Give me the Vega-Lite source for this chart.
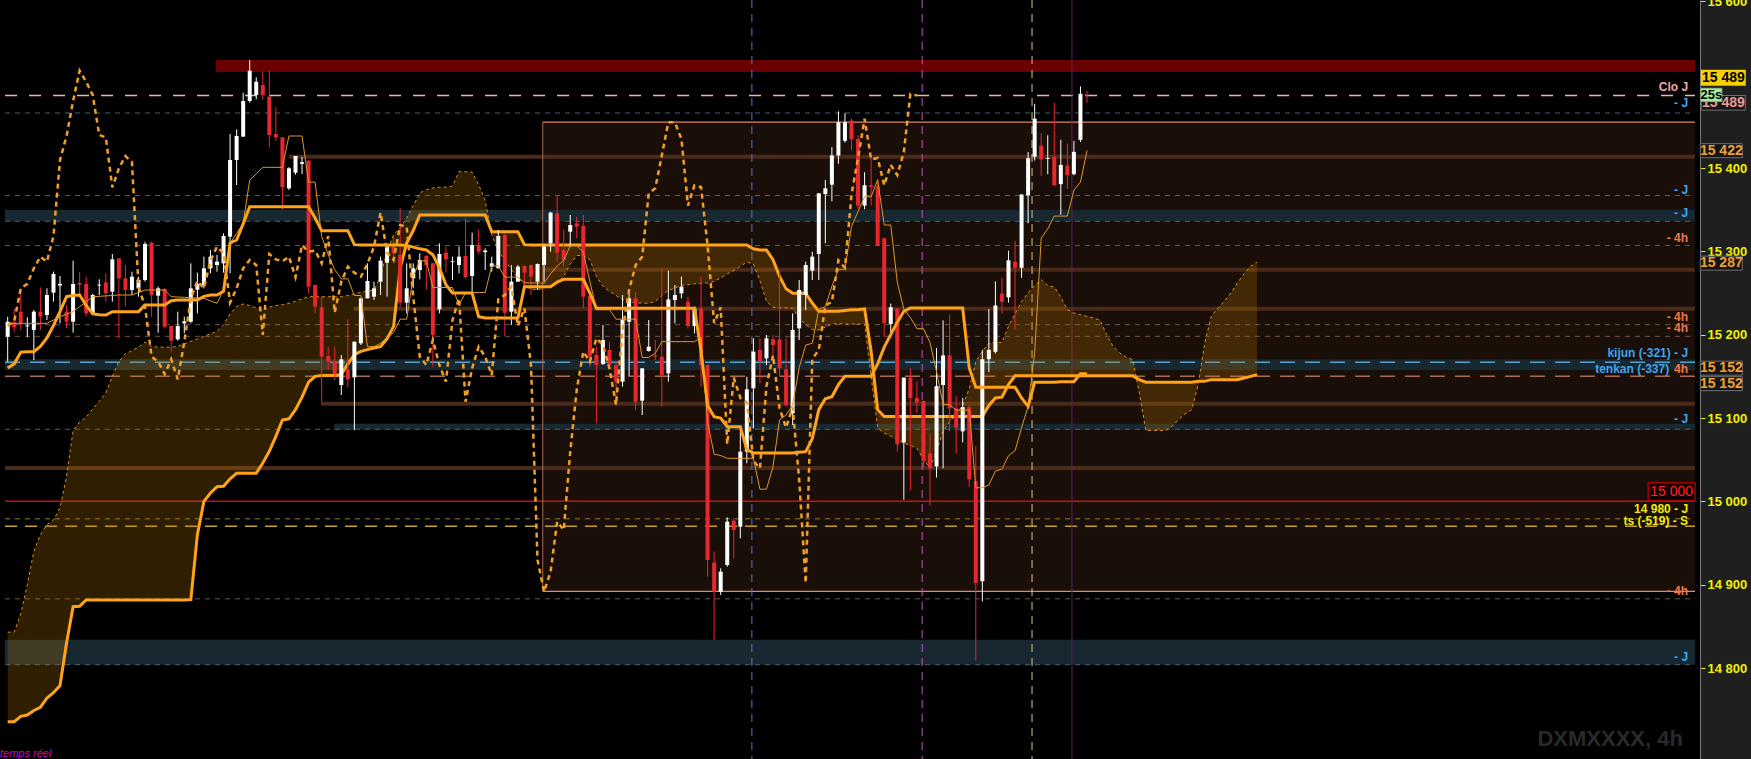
{
"$schema": "https://vega.github.io/schema/vega-lite/v6.json",
"width": 1700, "height": 759,
"autosize": {"type": "none"},
"padding": {"left": 0, "top": 0, "right": 51, "bottom": 0},
"background": "#1f1f1f",
"config": {"view": {"fill": "#000000", "stroke": null}, "text": {"font": "Liberation Sans"}},
"resolve": {"scale": {"color": "independent", "strokeDash": "independent", "strokeWidth": "independent"}},
"datasets": {
"bars": [
{"i":0,"o":15197.6,"h":15221.6,"l":15167.6,"c":15215.6,"tk":15213.6,"kj":15160,"sa":14843,"sb":14735.6,"ck":15210.4},
{"i":1,"o":15215,"h":15231,"l":15203,"c":15209,"tk":15213.6,"kj":15165,"sa":14843,"sb":14735.6,"ck":15216},
{"i":2,"o":15227.6,"h":15255.6,"l":15205.6,"c":15213.6,"tk":15213.6,"kj":15179,"sa":14865,"sb":14742,"ck":15255.6},
{"i":3,"o":15210,"h":15221,"l":15197,"c":15211,"tk":15213.6,"kj":15179.6,"sa":14900,"sb":14743.6,"ck":15261},
{"i":4,"o":15205.6,"h":15229.6,"l":15169.6,"c":15227.6,"tk":15213.6,"kj":15179.6,"sa":14940,"sb":14749,"ck":15279.6},
{"i":5,"o":15227.6,"h":15256.8,"l":15205.6,"c":15221.6,"tk":15213.6,"kj":15186,"sa":14960,"sb":14752.8,"ck":15293.6},
{"i":6,"o":15223.6,"h":15255.6,"l":15217.6,"c":15247.6,"tk":15213.6,"kj":15196,"sa":14972,"sb":14764,"ck":15287.6},
{"i":7,"o":15250.4,"h":15275.6,"l":15239.6,"c":15272.8,"tk":15217.6,"kj":15211,"sa":14977.6,"sb":14770.4,"ck":15318.4},
{"i":8,"o":15259,"h":15270.4,"l":15213.6,"c":15261,"tk":15221.6,"kj":15228,"sa":14992,"sb":14779,"ck":15409.6},
{"i":9,"o":15227.6,"h":15235.6,"l":15207.6,"c":15215.6,"tk":15224.6,"kj":15245.6,"sa":15030,"sb":14830,"ck":15438.4},
{"i":10,"o":15215.6,"h":15288.8,"l":15202.4,"c":15260.8,"tk":15227.6,"kj":15247,"sa":15085,"sb":14873.6,"ck":15480.4},
{"i":11,"o":15262,"h":15275.6,"l":15247.6,"c":15260,"tk":15233.6,"kj":15247.6,"sa":15095,"sb":14874,"ck":15516.8},
{"i":12,"o":15260.8,"h":15269.6,"l":15221.6,"c":15225.6,"tk":15239.6,"kj":15235,"sa":15101,"sb":14881.6,"ck":15503.6},
{"i":13,"o":15225.6,"h":15249,"l":15224,"c":15247.6,"tk":15245.6,"kj":15225,"sa":15111,"sb":14881.6,"ck":15487.6},
{"i":14,"o":15259,"h":15266.4,"l":15247.6,"c":15260,"tk":15246,"kj":15224,"sa":15120,"sb":14881.6,"ck":15439.6},
{"i":15,"o":15262.8,"h":15273.6,"l":15239.6,"c":15249.6,"tk":15246.5,"kj":15223.6,"sa":15130,"sb":14881.6,"ck":15436.8},
{"i":16,"o":15251.6,"h":15296.8,"l":15239.6,"c":15290.4,"tk":15247,"kj":15227.6,"sa":15150,"sb":14881.6,"ck":15376.8},
{"i":17,"o":15291.6,"h":15292,"l":15195.6,"c":15267.6,"tk":15247.6,"kj":15227.6,"sa":15168,"sb":14881.6,"ck":15399.6},
{"i":18,"o":15267.6,"h":15283.6,"l":15233.6,"c":15253.6,"tk":15247.6,"kj":15227.6,"sa":15177,"sb":14881.6,"ck":15414.4},
{"i":19,"o":15253.6,"h":15275.6,"l":15247.6,"c":15269.6,"tk":15247.6,"kj":15227.6,"sa":15181,"sb":14881.6,"ck":15407},
{"i":20,"o":15255.6,"h":15269.6,"l":15245.6,"c":15265.6,"tk":15250.6,"kj":15227.6,"sa":15185,"sb":14881.6,"ck":15257.6},
{"i":21,"o":15265.6,"h":15311.6,"l":15263.6,"c":15308.8,"tk":15253.6,"kj":15235.6,"sa":15191,"sb":14881.6,"ck":15233.6},
{"i":22,"o":15310.4,"h":15311.6,"l":15221.6,"c":15247.6,"tk":15253.6,"kj":15235.6,"sa":15186,"sb":14881.6,"ck":15173.6},
{"i":23,"o":15246.8,"h":15257.6,"l":15202.4,"c":15255.6,"tk":15253.6,"kj":15235.6,"sa":15185,"sb":14881.6,"ck":15167.6},
{"i":24,"o":15254.8,"h":15256,"l":15207.6,"c":15209.6,"tk":15253.6,"kj":15235.6,"sa":15185,"sb":14881.6,"ck":15152.8},
{"i":25,"o":15210.4,"h":15211,"l":15179.6,"c":15192.8,"tk":15245.6,"kj":15240.8,"sa":15185,"sb":14881.6,"ck":15170.4},
{"i":26,"o":15194.4,"h":15227.6,"l":15192.8,"c":15210.4,"tk":15245.2,"kj":15241.5,"sa":15186,"sb":14881.6,"ck":15146.4},
{"i":27,"o":15213.6,"h":15221.6,"l":15201.6,"c":15216,"tk":15244.8,"kj":15241.5,"sa":15189,"sb":14881.6,"ck":15191.6},
{"i":28,"o":15215.6,"h":15285.6,"l":15213.6,"c":15255.6,"tk":15244.4,"kj":15241.5,"sa":15192,"sb":14882,"ck":15243.6},
{"i":29,"o":15254,"h":15274.4,"l":15225.6,"c":15261,"tk":15244,"kj":15241.5,"sa":15195,"sb":14960,"ck":15264.4},
{"i":30,"o":15259.6,"h":15293.6,"l":15255.6,"c":15279.6,"tk":15243.6,"kj":15246,"sa":15198,"sb":15000,"ck":15255.6},
{"i":31,"o":15279.6,"h":15301.6,"l":15273.6,"c":15293.6,"tk":15240.6,"kj":15247.6,"sa":15201,"sb":15010,"ck":15288.8},
{"i":32,"o":15283.6,"h":15295.6,"l":15275.6,"c":15287.6,"tk":15237.6,"kj":15247.6,"sa":15204,"sb":15017.6,"ck":15305.6},
{"i":33,"o":15285.6,"h":15321.6,"l":15274.4,"c":15318.4,"tk":15253.6,"kj":15252,"sa":15212,"sb":15018,"ck":15297.6},
{"i":34,"o":15317.6,"h":15440.8,"l":15273.6,"c":15409.6,"tk":15309.6,"kj":15310,"sa":15225,"sb":15027,"ck":15238.4},
{"i":35,"o":15409.6,"h":15446.4,"l":15379.6,"c":15438.4,"tk":15321.6,"kj":15313.6,"sa":15234,"sb":15033.6,"ck":15255.6},
{"i":36,"o":15437.6,"h":15490.4,"l":15437.6,"c":15480.4,"tk":15333.6,"kj":15333,"sa":15236.8,"sb":15033.6,"ck":15279.6},
{"i":37,"o":15480.4,"h":15529.6,"l":15478.4,"c":15516.8,"tk":15385.6,"kj":15353.6,"sa":15235,"sb":15033.6,"ck":15289.6},
{"i":38,"o":15487.6,"h":15508.8,"l":15482.4,"c":15503.6,"tk":15393,"kj":15353.6,"sa":15232,"sb":15033.6,"ck":15283.6},
{"i":39,"o":15499.6,"h":15515.6,"l":15481.6,"c":15487.6,"tk":15400.8,"kj":15353.6,"sa":15229.6,"sb":15046,"ck":15199.6},
{"i":40,"o":15485.6,"h":15516.8,"l":15424.8,"c":15439.6,"tk":15400.8,"kj":15353.6,"sa":15233,"sb":15060,"ck":15296.8},
{"i":41,"o":15440.8,"h":15472.8,"l":15432.8,"c":15436.8,"tk":15400.8,"kj":15353.6,"sa":15235,"sb":15078,"ck":15290.4},
{"i":42,"o":15436.8,"h":15437,"l":15349.6,"c":15376.8,"tk":15400.8,"kj":15353.6,"sa":15236,"sb":15097.6,"ck":15288},
{"i":43,"o":15375.6,"h":15401,"l":15373.6,"c":15399.6,"tk":15438.4,"kj":15353.6,"sa":15237.6,"sb":15099,"ck":15293.6},
{"i":44,"o":15394.4,"h":15414.4,"l":15392,"c":15414.4,"tk":15438.4,"kj":15353.6,"sa":15240,"sb":15110,"ck":15268.8},
{"i":45,"o":15405,"h":15413.6,"l":15392.8,"c":15407,"tk":15438.4,"kj":15353.6,"sa":15243,"sb":15125,"ck":15307.6},
{"i":46,"o":15408.8,"h":15409.6,"l":15249.6,"c":15257.6,"tk":15383,"kj":15353.6,"sa":15245.6,"sb":15143,"ck":15299.6},
{"i":47,"o":15259.6,"h":15260,"l":15225.6,"c":15233.6,"tk":15383,"kj":15340,"sa":15245.6,"sb":15150,"ck":15301},
{"i":48,"o":15232.8,"h":15245.6,"l":15119.6,"c":15173.6,"tk":15318,"kj":15324.8,"sa":15245.6,"sb":15151,"ck":15285.6},
{"i":49,"o":15174.4,"h":15185.6,"l":15157.6,"c":15167.6,"tk":15296,"kj":15324.8,"sa":15245.6,"sb":15151,"ck":15318.4},
{"i":50,"o":15168.4,"h":15185.6,"l":15145.6,"c":15152.8,"tk":15278,"kj":15324.8,"sa":15245.6,"sb":15151,"ck":15226.4},
{"i":51,"o":15139.6,"h":15175.6,"l":15127.6,"c":15170.4,"tk":15267,"kj":15324.8,"sa":15245.6,"sb":15152,"ck":15263.6},
{"i":52,"o":15158.4,"h":15218.4,"l":15136.8,"c":15146.4,"tk":15267,"kj":15324.8,"sa":15247,"sb":15165,"ck":15281.6},
{"i":53,"o":15148.8,"h":15191.6,"l":15085.6,"c":15191.6,"tk":15247,"kj":15308,"sa":15249,"sb":15176,"ck":15274.4},
{"i":54,"o":15189.6,"h":15243.6,"l":15187.6,"c":15243.6,"tk":15247,"kj":15307.6,"sa":15251,"sb":15180,"ck":15269.6},
{"i":55,"o":15243.6,"h":15285.6,"l":15243.6,"c":15264.4,"tk":15185.6,"kj":15307.6,"sa":15252,"sb":15182,"ck":15284.8},
{"i":56,"o":15245.6,"h":15263.6,"l":15241.6,"c":15255.6,"tk":15185.6,"kj":15307.6,"sa":15253.6,"sb":15184,"ck":15305.6},
{"i":57,"o":15263.6,"h":15293.6,"l":15247.6,"c":15288.8,"tk":15189.6,"kj":15307.6,"sa":15270,"sb":15185.6,"ck":15346.4},
{"i":58,"o":15286.4,"h":15307.6,"l":15245.6,"c":15305.6,"tk":15196.6,"kj":15307.6,"sa":15300,"sb":15195,"ck":15298.4},
{"i":59,"o":15305.6,"h":15319.6,"l":15285.6,"c":15297.6,"tk":15202.6,"kj":15307.6,"sa":15320,"sb":15210,"ck":15289.6},
{"i":60,"o":15295.6,"h":15351.6,"l":15233.6,"c":15238.4,"tk":15218.6,"kj":15307.6,"sa":15328,"sb":15280,"ck":15331.6},
{"i":61,"o":15238.4,"h":15285.6,"l":15225.6,"c":15255.6,"tk":15218.6,"kj":15307,"sa":15340,"sb":15310,"ck":15329.6},
{"i":62,"o":15267.6,"h":15285.6,"l":15255.6,"c":15279.6,"tk":15270,"kj":15305,"sa":15355,"sb":15325,"ck":15245.6},
{"i":63,"o":15277.6,"h":15297.6,"l":15266.4,"c":15289.6,"tk":15288.6,"kj":15303,"sa":15370,"sb":15343.6,"ck":15173.6},
{"i":64,"o":15294.4,"h":15295.6,"l":15253.6,"c":15283.6,"tk":15288.6,"kj":15301.6,"sa":15374,"sb":15343.6,"ck":15163.6},
{"i":65,"o":15285.6,"h":15286,"l":15161.6,"c":15199.6,"tk":15256.6,"kj":15296,"sa":15376,"sb":15343.6,"ck":15193.6},
{"i":66,"o":15230.4,"h":15309.6,"l":15225.6,"c":15296.8,"tk":15256.6,"kj":15280,"sa":15377,"sb":15343.6,"ck":15163.6},
{"i":67,"o":15298.4,"h":15305.6,"l":15274.4,"c":15290.4,"tk":15256.6,"kj":15260,"sa":15377,"sb":15343.6,"ck":15143.6},
{"i":68,"o":15287,"h":15293.6,"l":15265.6,"c":15288,"tk":15256.6,"kj":15250,"sa":15378.4,"sb":15343.6,"ck":15217.6},
{"i":69,"o":15283.6,"h":15305.6,"l":15273.6,"c":15293.6,"tk":15235.6,"kj":15250,"sa":15395.6,"sb":15343.6,"ck":15243.6},
{"i":70,"o":15294.4,"h":15339.6,"l":15267.6,"c":15268.8,"tk":15250.6,"kj":15250,"sa":15395.6,"sb":15343.6,"ck":15119.6},
{"i":71,"o":15270.4,"h":15322.4,"l":15251.6,"c":15307.6,"tk":15250.6,"kj":15250,"sa":15395,"sb":15343.6,"ck":15159.6},
{"i":72,"o":15307.6,"h":15326.4,"l":15296.6,"c":15299.6,"tk":15250.6,"kj":15221.6,"sa":15380,"sb":15343.6,"ck":15185.6},
{"i":73,"o":15299,"h":15303.6,"l":15277.6,"c":15301,"tk":15250.6,"kj":15220,"sa":15361,"sb":15343.6,"ck":15173.6},
{"i":74,"o":15281.6,"h":15293.6,"l":15275.6,"c":15285.6,"tk":15282.6,"kj":15220,"sa":15320,"sb":15323.6,"ck":15151.6},
{"i":75,"o":15279.6,"h":15325.6,"l":15279.6,"c":15318.4,"tk":15282.6,"kj":15220,"sa":15300,"sb":15323.6,"ck":15242.4},
{"i":76,"o":15319.6,"h":15321.6,"l":15198.4,"c":15226.4,"tk":15269,"kj":15220,"sa":15290,"sb":15323.6,"ck":15247.6},
{"i":77,"o":15227.6,"h":15283.6,"l":15211.6,"c":15263.6,"tk":15269,"kj":15220,"sa":15278,"sb":15323.6,"ck":15257.6},
{"i":78,"o":15263.6,"h":15283.6,"l":15263.6,"c":15281.6,"tk":15269,"kj":15220,"sa":15268,"sb":15323.6,"ck":15210.4},
{"i":79,"o":15282.4,"h":15283.6,"l":15253.6,"c":15274.4,"tk":15262.4,"kj":15257.6,"sa":15260,"sb":15308,"ck":15231.6},
{"i":80,"o":15283.6,"h":15284,"l":15247.6,"c":15269.6,"tk":15262,"kj":15257.6,"sa":15254,"sb":15307.6,"ck":15163.6},
{"i":81,"o":15263.6,"h":15285.6,"l":15253.6,"c":15284.8,"tk":15262,"kj":15257.6,"sa":15254,"sb":15307.6,"ck":14929.6},
{"i":82,"o":15283.6,"h":15307.6,"l":15263.6,"c":15305.6,"tk":15262,"kj":15257.6,"sa":15256,"sb":15307.6,"ck":14891.6},
{"i":83,"o":15309.6,"h":15347.6,"l":15299.6,"c":15346.4,"tk":15273,"kj":15257.6,"sa":15258,"sb":15307.6,"ck":14915.6},
{"i":84,"o":15345.6,"h":15366.4,"l":15287.6,"c":15298.4,"tk":15282.4,"kj":15263,"sa":15262,"sb":15307.6,"ck":14975.6},
{"i":85,"o":15301.6,"h":15325.6,"l":15281.6,"c":15289.6,"tk":15289,"kj":15266.4,"sa":15270,"sb":15307.6,"ck":14965.6},
{"i":86,"o":15323.6,"h":15343.6,"l":15305.6,"c":15331.6,"tk":15307,"kj":15266.4,"sa":15285,"sb":15307.6,"ck":15059.6},
{"i":87,"o":15333.6,"h":15341.6,"l":15315.6,"c":15329.6,"tk":15307,"kj":15266.4,"sa":15295,"sb":15307.6,"ck":15134.4},
{"i":88,"o":15330.4,"h":15343.6,"l":15231.6,"c":15245.6,"tk":15299,"kj":15266.4,"sa":15295,"sb":15307.6,"ck":15179.6},
{"i":89,"o":15246.4,"h":15247,"l":15161.6,"c":15173.6,"tk":15264,"kj":15250,"sa":15290,"sb":15307.6,"ck":15167.6},
{"i":90,"o":15175.6,"h":15185.6,"l":15093.6,"c":15163.6,"tk":15230,"kj":15231.6,"sa":15270,"sb":15307.6,"ck":15195.6},
{"i":91,"o":15164.8,"h":15211.6,"l":15163.6,"c":15193.6,"tk":15230,"kj":15231.6,"sa":15258,"sb":15307.6,"ck":15187.6},
{"i":92,"o":15181.6,"h":15191.6,"l":15159.6,"c":15163.6,"tk":15230,"kj":15231.6,"sa":15252,"sb":15307.6,"ck":15159.6},
{"i":93,"o":15163.6,"h":15167.6,"l":15117.6,"c":15143.6,"tk":15218.6,"kj":15231.6,"sa":15247,"sb":15307.6,"ck":15115.6},
{"i":94,"o":15143.6,"h":15247.6,"l":15137.6,"c":15217.6,"tk":15218.6,"kj":15231.6,"sa":15242,"sb":15307.6,"ck":15205.6},
{"i":95,"o":15215.6,"h":15249.6,"l":15149.6,"c":15243.6,"tk":15218.6,"kj":15231.6,"sa":15240,"sb":15307.6,"ck":15253.6},
{"i":96,"o":15243.6,"h":15251.6,"l":15109.6,"c":15119.6,"tk":15218.6,"kj":15231.6,"sa":15238,"sb":15307.6,"ck":15283.6},
{"i":97,"o":15120.8,"h":15159.6,"l":15103.6,"c":15159.6,"tk":15172.6,"kj":15231.6,"sa":15238,"sb":15307.6,"ck":15293.6},
{"i":98,"o":15180.4,"h":15217.6,"l":15179.6,"c":15185.6,"tk":15172.6,"kj":15231.6,"sa":15237.6,"sb":15307.6,"ck":15369.6},
{"i":99,"o":15175,"h":15193.6,"l":15169.6,"c":15173.6,"tk":15177.6,"kj":15231.6,"sa":15240,"sb":15307.6,"ck":15375.6},
{"i":100,"o":15173.6,"h":15279.6,"l":15113.6,"c":15151.6,"tk":15191.6,"kj":15231.6,"sa":15247,"sb":15307.6,"ck":15415},
{"i":101,"o":15153.6,"h":15276.8,"l":15143.6,"c":15242.4,"tk":15191.6,"kj":15231.6,"sa":15253,"sb":15307.6,"ck":15455},
{"i":102,"o":15241.6,"h":15259.6,"l":15213.6,"c":15247.6,"tk":15191.6,"kj":15231.6,"sa":15256,"sb":15307.6,"ck":15454.8},
{"i":103,"o":15249.6,"h":15269.6,"l":15243.6,"c":15257.6,"tk":15191.6,"kj":15231.6,"sa":15259,"sb":15307.6,"ck":15434.8},
{"i":104,"o":15239.6,"h":15245.6,"l":15207.6,"c":15210.4,"tk":15191.6,"kj":15231.6,"sa":15260,"sb":15307.6,"ck":15354.9},
{"i":105,"o":15210.4,"h":15233.6,"l":15201.6,"c":15231.6,"tk":15191.6,"kj":15231.6,"sa":15261,"sb":15307.6,"ck":15379.3},
{"i":106,"o":15231.6,"h":15269.6,"l":15137.6,"c":15163.6,"tk":15196.6,"kj":15180,"sa":15261.6,"sb":15307.6,"ck":15377.1},
{"i":107,"o":15163.6,"h":15164,"l":14909.6,"c":14929.6,"tk":15094.6,"kj":15115,"sa":15262,"sb":15307.6,"ck":15306.9},
{"i":108,"o":14926.4,"h":14939.6,"l":14833.6,"c":14891.6,"tk":15056.6,"kj":15101.6,"sa":15264,"sb":15307.6,"ck":15213.7},
{"i":109,"o":14891.6,"h":14919.6,"l":14887.6,"c":14915.6,"tk":15055,"kj":15100,"sa":15268,"sb":15307.6,"ck":15232.8},
{"i":110,"o":14923.6,"h":14980.8,"l":14921.6,"c":14975.6,"tk":15051.6,"kj":15089.6,"sa":15273,"sb":15307.6,"ck":15068.5},
{"i":111,"o":14976.8,"h":14979.6,"l":14931.6,"c":14965.6,"tk":15051.6,"kj":15089.6,"sa":15277,"sb":15307.6,"ck":15148.4},
{"i":112,"o":14969.6,"h":15085.6,"l":14955.6,"c":15059.6,"tk":15051.6,"kj":15089.6,"sa":15282,"sb":15307.6,"ck":15124},
{"i":113,"o":15059.6,"h":15149.6,"l":15045.6,"c":15134.4,"tk":15051.6,"kj":15062,"sa":15287,"sb":15307.6,"ck":15118.7},
{"i":114,"o":15135.6,"h":15195.6,"l":15087.6,"c":15179.6,"tk":15051.6,"kj":15058,"sa":15285,"sb":15303,"ck":15048.5},
{"i":115,"o":15181.6,"h":15195.6,"l":15141.6,"c":15167.6,"tk":15014.6,"kj":15058,"sa":15265,"sb":15301.6,"ck":15039.6},
{"i":116,"o":15171.6,"h":15199.6,"l":15163.6,"c":15195.6,"tk":15014.6,"kj":15058,"sa":15240,"sb":15301.6,"ck":15138.2},
{"i":117,"o":15194.4,"h":15199.6,"l":15167.6,"c":15187.6,"tk":15041.6,"kj":15058,"sa":15233,"sb":15290,"ck":15175.1},
{"i":118,"o":15194.4,"h":15275.6,"l":15149.6,"c":15159.6,"tk":15097.8,"kj":15058,"sa":15232,"sb":15270,"ck":15111.6},
{"i":119,"o":15158.4,"h":15195.6,"l":15113.6,"c":15115.6,"tk":15103.6,"kj":15058,"sa":15232,"sb":15255,"ck":15088.5},
{"i":120,"o":15105.6,"h":15225.6,"l":15091.6,"c":15205.6,"tk":15115.6,"kj":15058,"sa":15231.6,"sb":15249.6,"ck":15113},
{"i":121,"o":15207.6,"h":15265.6,"l":15193.6,"c":15253.6,"tk":15160.6,"kj":15059,"sa":15220,"sb":15249.6,"ck":15026.3},
{"i":122,"o":15247.6,"h":15287.6,"l":15229.6,"c":15283.6,"tk":15187.6,"kj":15059.6,"sa":15212,"sb":15249.6,"ck":14902},
{"i":123,"o":15276.8,"h":15299.6,"l":15265.6,"c":15293.6,"tk":15189.6,"kj":15075,"sa":15206,"sb":15238,"ck":15170.6},
{"i":124,"o":15296.8,"h":15369.6,"l":15265.6,"c":15369.6,"tk":15230.6,"kj":15110,"sa":15205.6,"sb":15228,"ck":15181.7},
{"i":125,"o":15368.8,"h":15385.6,"l":15309.6,"c":15375.6,"tk":15233.6,"kj":15123,"sa":15209,"sb":15228,"ck":15235},
{"i":126,"o":15380,"h":15425,"l":15360,"c":15415,"tk":15258,"kj":15125.6,"sa":15213,"sb":15228,"ck":15239.4},
{"i":127,"o":15415,"h":15468,"l":15405,"c":15455,"tk":15278,"kj":15140,"sa":15213,"sb":15228,"ck":15289.2},
{"i":128,"o":15432.6,"h":15465.9,"l":15430.4,"c":15454.8,"tk":15278.8,"kj":15150,"sa":15212.8,"sb":15229,"ck":15280.3},
{"i":129,"o":15457,"h":15459.2,"l":15421.5,"c":15434.8,"tk":15329.8,"kj":15150,"sa":15212.8,"sb":15230,"ck":15368.2},
{"i":130,"o":15434.8,"h":15439.3,"l":15350.5,"c":15354.9,"tk":15347.8,"kj":15150,"sa":15212.8,"sb":15230,"ck":15411.7},
{"i":131,"o":15354.9,"h":15394.9,"l":15350.5,"c":15379.3,"tk":15365.5,"kj":15150,"sa":15212.8,"sb":15231,"ck":15459.2},
{"i":132,"o":15379.3,"h":15412.6,"l":15354.9,"c":15377.1,"tk":15365.5,"kj":15150,"sa":15150,"sb":15180,"ck":15410.4},
{"i":133,"o":15378,"h":15386,"l":15306,"c":15306.9,"tk":15386,"kj":15165,"sa":15088,"sb":15110,"ck":15412},
{"i":134,"o":15315.8,"h":15316,"l":15197.3,"c":15213.7,"tk":15331.6,"kj":15185,"sa":15082,"sb":15101.8,"ck":15379.3},
{"i":135,"o":15212.8,"h":15237.2,"l":15197.3,"c":15232.8,"tk":15331.6,"kj":15200,"sa":15078,"sb":15101.8,"ck":15403.7},
{"i":136,"o":15231.5,"h":15232,"l":15059.6,"c":15068.5,"tk":15262.8,"kj":15215,"sa":15074,"sb":15101.8,"ck":15391.3},
{"i":137,"o":15070.7,"h":15148.4,"l":15001.9,"c":15148.4,"tk":15230.5,"kj":15228,"sa":15070,"sb":15101.8,"ck":15419.3},
{"i":138,"o":15148.4,"h":15159.5,"l":15013,"c":15124,"tk":15220.6,"kj":15232,"sa":15067,"sb":15101.8,"ck":15489},
{"i":139,"o":15124,"h":15144,"l":15106.2,"c":15118.7,"tk":15207.2,"kj":15232,"sa":15064,"sb":15101.8,"ck":15487},
{"i":140,"o":15120.5,"h":15121,"l":15039.6,"c":15048.5,"tk":15207.2,"kj":15232,"sa":15050,"sb":15101.8},
{"i":141,"o":15057.4,"h":15081.8,"l":14995.2,"c":15039.6,"tk":15190.6,"kj":15232,"sa":15040,"sb":15101.8},
{"i":142,"o":15041.9,"h":15184,"l":15028.6,"c":15138.2,"tk":15155.5,"kj":15232,"sa":15060,"sb":15101.8},
{"i":143,"o":15139.6,"h":15217.2,"l":15039.6,"c":15175.1,"tk":15116.2,"kj":15232,"sa":15084,"sb":15101.8},
{"i":144,"o":15175.1,"h":15223.9,"l":15084,"c":15111.6,"tk":15116,"kj":15232,"sa":15095,"sb":15101.8},
{"i":145,"o":15111.6,"h":15126.3,"l":15057.4,"c":15088.5,"tk":15109.5,"kj":15232,"sa":15105,"sb":15101.8},
{"i":146,"o":15084,"h":15124,"l":15070.7,"c":15113,"tk":15109.5,"kj":15232,"sa":15115,"sb":15101.8},
{"i":147,"o":15113,"h":15115.1,"l":15017.4,"c":15026.3,"tk":15109.5,"kj":15160,"sa":15135,"sb":15101.8},
{"i":148,"o":15024.1,"h":15066.3,"l":14808.8,"c":14902,"tk":15016.3,"kj":15137,"sa":15168,"sb":15101.8},
{"i":149,"o":14904.2,"h":15181.7,"l":14879.8,"c":15170.6,"tk":15016.3,"kj":15137,"sa":15180,"sb":15101.8},
{"i":150,"o":15170.6,"h":15230.6,"l":15155.1,"c":15181.7,"tk":15019.7,"kj":15137,"sa":15190,"sb":15115},
{"i":151,"o":15179.5,"h":15263.9,"l":15177.3,"c":15235,"tk":15036.4,"kj":15137,"sa":15190.6,"sb":15124},
{"i":152,"o":15249.2,"h":15268.3,"l":15225.3,"c":15239.4,"tk":15038.5,"kj":15137,"sa":15190.6,"sb":15125},
{"i":153,"o":15244.8,"h":15300.7,"l":15238.6,"c":15289.2,"tk":15054.7,"kj":15137,"sa":15210,"sb":15140},
{"i":154,"o":15287.4,"h":15312.7,"l":15206.2,"c":15280.3,"tk":15060.7,"kj":15137,"sa":15225,"sb":15150.6},
{"i":155,"o":15280.3,"h":15368.2,"l":15268.3,"c":15368.2,"tk":15088.5,"kj":15124,"sa":15240,"sb":15150.6},
{"i":156,"o":15367.3,"h":15419.3,"l":15333.6,"c":15411.7,"tk":15114,"kj":15114,"sa":15250,"sb":15150.6},
{"i":157,"o":15413.5,"h":15477,"l":15409,"c":15459.2,"tk":15178.4,"kj":15143,"sa":15259,"sb":15150.6},
{"i":158,"o":15426.8,"h":15441.5,"l":15390.4,"c":15410.4,"tk":15316,"kj":15143,"sa":15266,"sb":15150.6},
{"i":159,"o":15411,"h":15439.2,"l":15392.6,"c":15412,"tk":15327,"kj":15143,"sa":15259,"sb":15150.6},
{"i":160,"o":15413.5,"h":15478.3,"l":15378,"c":15379.3,"tk":15342.3,"kj":15143,"sa":15257,"sb":15150.6},
{"i":161,"o":15380.6,"h":15433.9,"l":15343.8,"c":15403.7,"tk":15342.3,"kj":15143.5,"sa":15245,"sb":15150.6},
{"i":162,"o":15402.8,"h":15429.5,"l":15374.9,"c":15391.3,"tk":15342.3,"kj":15143.5,"sa":15230,"sb":15150.6},
{"i":163,"o":15392.6,"h":15432.6,"l":15391.3,"c":15419.3,"tk":15373.3,"kj":15143.5,"sa":15226,"sb":15150.6},
{"i":164,"o":15433.9,"h":15497.9,"l":15431.3,"c":15489,"tk":15383,"kj":15153,"sa":15224,"sb":15150.6},
{"i":165,"o":15488,"h":15492.5,"l":15478.3,"c":15487,"tk":15420.8,"kj":15153,"sa":15222,"sb":15150.6},
{"i":166,"sa":15220,"sb":15150.6},{"i":167,"sa":15217.3,"sb":15150.6},{"i":168,"sa":15200,"sb":15150.6},
{"i":169,"sa":15186,"sb":15150.6},{"i":170,"sa":15178,"sb":15150.6},{"i":171,"sa":15173,"sb":15150.6},
{"i":172,"sa":15170,"sb":15150.6},{"i":173,"sa":15130,"sb":15146},{"i":174,"sa":15085,"sb":15143},
{"i":175,"sa":15085,"sb":15143},{"i":176,"sa":15085,"sb":15143},{"i":177,"sa":15085,"sb":15143},
{"i":178,"sa":15090,"sb":15143},{"i":179,"sa":15098,"sb":15143},{"i":180,"sa":15105,"sb":15143},
{"i":181,"sa":15110,"sb":15143},{"i":182,"sa":15140,"sb":15144},{"i":183,"sa":15190,"sb":15144},
{"i":184,"sa":15222,"sb":15146},{"i":185,"sa":15232,"sb":15146},{"i":186,"sa":15240,"sb":15146},
{"i":187,"sa":15250,"sb":15146},{"i":188,"sa":15262,"sb":15146},{"i":189,"sa":15273,"sb":15148},
{"i":190,"sa":15282,"sb":15150},{"i":191,"sa":15287,"sb":15152}
],
"lv": [
{"p":15413.5,"from":43,"k":"zone"},{"p":15278,"from":81.8,"k":"zone"},{"p":15231,"from":52.9,"k":"zone"},{"p":15117,"from":47.9,"k":"zone"},{"p":15040,"from":-0.41,"k":"zone"},
{"p":15466,"from":-0.41,"k":"J"},{"p":15367,"from":-0.41,"k":"J"},{"p":15336,"from":-0.41,"k":"J"},{"p":15086.5,"from":-0.41,"k":"J"},{"p":14804,"from":-0.41,"k":"J"},
{"p":15307,"from":-0.41,"k":"4h"},{"p":15212,"from":-0.41,"k":"4h"},{"p":15198,"from":-0.41,"k":"4h"},{"p":14883,"from":-0.41,"k":"4h"},
{"p":15166.8,"from":-0.41,"k":"kijunJ"},{"p":15150,"from":-0.41,"k":"tenkan4h"},
{"p":14979,"from":-0.41,"k":"j980"},{"p":14970,"from":-0.41,"k":"ts"},
{"p":15455,"from":81.8,"k":"box"},{"p":14892,"from":81.8,"k":"box"},
{"p":15000,"from":-0.41,"k":"round"},{"p":15487,"from":-0.41,"k":"clo"}
],
"labels": [
{"p":15497.2,"t":"Clo J","k":"clo"},
{"p":15478,"t":"- J","k":"J"},
{"p":15373.6,"t":"- J","k":"J"},
{"p":15346,"t":"- J","k":"J"},
{"p":15316,"t":"- 4h","k":"4h"},
{"p":15221,"t":"- 4h","k":"4h"},
{"p":15208,"t":"- 4h","k":"4h"},
{"p":15178,"t":"kijun (-321) - J","k":"J"},
{"p":15159.4,"t":"4h","k":"4h"},
{"p":15098.8,"t":"- J","k":"J"},
{"p":14990.5,"t":"14 980 - J","k":"S"},
{"p":14977,"t":"ts (-519) - S","k":"S"},
{"p":14892.4,"t":"- 4h","k":"4h"},
{"p":14813.2,"t":"- J","k":"J"}
]
},
"layer": [
{"data": {"values": [{"a": 15515.2, "b": 15529.6, "from": 31.8}]},
 "mark": {"type": "rect", "color": "#6b0000"},
 "encoding": {
  "x": {"field": "from", "type": "quantitative", "scale": {"domain": [-0.41, 257.95], "nice": false, "zero": false}, "axis": null},
  "x2": {"datum": 257.95},
  "y": {"field": "a", "type": "quantitative", "scale": {"domain": [14690.8, 15601.6], "nice": false, "zero": false}, "axis": {"orient": "right", "values": [14800, 14900, 15000, 15100, 15200, 15300, 15400, 15600], "labelExpr": "replace(format(datum.value, ','), ',', ' ')", "title": null, "grid": false, "domainColor": "#7a7a7a", "tickColor": "#e8e800", "tickSize": 5, "labelColor": "#f2f200", "labelFont": "Liberation Sans", "labelFontSize": 13, "labelFontWeight": "bold", "labelPadding": 2, "labelOverlap": false, "labelBound": false, "labelFlush": false}},
  "y2": {"field": "b"}}},
{"data": {"values": [{"top": 15455, "bot": 14892, "from": 81.8}]},
 "mark": {"type": "rect", "color": "#1a0e09"},
 "encoding": {
  "x": {"field": "from", "type": "quantitative", "scale": {"domain": [-0.41, 257.95], "nice": false, "zero": false}, "axis": null},
  "x2": {"datum": 257.95},
  "y": {"field": "top", "type": "quantitative", "scale": {"domain": [14690.8, 15601.6], "nice": false, "zero": false}, "axis": {"orient": "right", "values": [14800, 14900, 15000, 15100, 15200, 15300, 15400, 15600], "labelExpr": "replace(format(datum.value, ','), ',', ' ')", "title": null, "grid": false, "domainColor": "#7a7a7a", "tickColor": "#e8e800", "tickSize": 5, "labelColor": "#f2f200", "labelFont": "Liberation Sans", "labelFontSize": 13, "labelFontWeight": "bold", "labelPadding": 2, "labelOverlap": false, "labelBound": false, "labelFlush": false}},
  "y2": {"field": "bot"}}},
{"data": {"values": [{"a": 15336, "b": 15350, "from": -0.41}, {"a": 15157.6, "b": 15170.5, "from": -0.41}, {"a": 15086, "b": 15093, "from": 49.9}, {"a": 14804, "b": 14834, "from": -0.41}]},
 "mark": {"type": "rect", "color": "#182830"},
 "encoding": {
  "x": {"field": "from", "type": "quantitative", "scale": {"domain": [-0.41, 257.95], "nice": false, "zero": false}, "axis": null},
  "x2": {"datum": 257.95},
  "y": {"field": "a", "type": "quantitative", "scale": {"domain": [14690.8, 15601.6], "nice": false, "zero": false}, "axis": {"orient": "right", "values": [14800, 14900, 15000, 15100, 15200, 15300, 15400, 15600], "labelExpr": "replace(format(datum.value, ','), ',', ' ')", "title": null, "grid": false, "domainColor": "#7a7a7a", "tickColor": "#e8e800", "tickSize": 5, "labelColor": "#f2f200", "labelFont": "Liberation Sans", "labelFontSize": 13, "labelFontWeight": "bold", "labelPadding": 2, "labelOverlap": false, "labelBound": false, "labelFlush": false}},
  "y2": {"field": "b"}}},
{"data": {"name": "lv"}, "transform": [{"filter": {"field": "k", "equal": "zone"}}],
 "mark": {"type": "rule", "color": "#4a2a18", "strokeWidth": 4},
 "encoding": {
  "x": {"field": "from", "type": "quantitative", "scale": {"domain": [-0.41, 257.95], "nice": false, "zero": false}, "axis": null},
  "x2": {"datum": 257.95},
  "y": {"field": "p", "type": "quantitative", "scale": {"domain": [14690.8, 15601.6], "nice": false, "zero": false}, "axis": {"orient": "right", "values": [14800, 14900, 15000, 15100, 15200, 15300, 15400, 15600], "labelExpr": "replace(format(datum.value, ','), ',', ' ')", "title": null, "grid": false, "domainColor": "#7a7a7a", "tickColor": "#e8e800", "tickSize": 5, "labelColor": "#f2f200", "labelFont": "Liberation Sans", "labelFontSize": 13, "labelFontWeight": "bold", "labelPadding": 2, "labelOverlap": false, "labelBound": false, "labelFlush": false}}}},
{"data": {"name": "lv"}, "transform": [{"filter": {"field": "k", "oneOf": ["J", "4h", "j980"]}}],
 "mark": {"type": "rule", "strokeWidth": 1, "strokeDash": [5, 5]},
 "encoding": {
  "x": {"field": "from", "type": "quantitative", "scale": {"domain": [-0.41, 257.95], "nice": false, "zero": false}, "axis": null},
  "x2": {"datum": 257.95},
  "y": {"field": "p", "type": "quantitative", "scale": {"domain": [14690.8, 15601.6], "nice": false, "zero": false}, "axis": {"orient": "right", "values": [14800, 14900, 15000, 15100, 15200, 15300, 15400, 15600], "labelExpr": "replace(format(datum.value, ','), ',', ' ')", "title": null, "grid": false, "domainColor": "#7a7a7a", "tickColor": "#e8e800", "tickSize": 5, "labelColor": "#f2f200", "labelFont": "Liberation Sans", "labelFontSize": 13, "labelFontWeight": "bold", "labelPadding": 2, "labelOverlap": false, "labelBound": false, "labelFlush": false}},
  "color": {"field": "k", "type": "nominal", "legend": null, "scale": {"domain": ["J", "4h", "j980"], "range": ["#45606f", "#6e5444", "#8c7e38"]}}}},
{"data": {"name": "lv"}, "transform": [{"filter": {"field": "k", "oneOf": ["kijunJ", "tenkan4h", "ts", "round", "clo"]}}],
 "mark": {"type": "rule", "strokeWidth": 1.5},
 "encoding": {
  "x": {"field": "from", "type": "quantitative", "scale": {"domain": [-0.41, 257.95], "nice": false, "zero": false}, "axis": null},
  "x2": {"datum": 257.95},
  "y": {"field": "p", "type": "quantitative", "scale": {"domain": [14690.8, 15601.6], "nice": false, "zero": false}, "axis": {"orient": "right", "values": [14800, 14900, 15000, 15100, 15200, 15300, 15400, 15600], "labelExpr": "replace(format(datum.value, ','), ',', ' ')", "title": null, "grid": false, "domainColor": "#7a7a7a", "tickColor": "#e8e800", "tickSize": 5, "labelColor": "#f2f200", "labelFont": "Liberation Sans", "labelFontSize": 13, "labelFontWeight": "bold", "labelPadding": 2, "labelOverlap": false, "labelBound": false, "labelFlush": false}},
  "color": {"field": "k", "type": "nominal", "legend": null, "scale": {"domain": ["kijunJ", "tenkan4h", "ts", "round", "clo"], "range": ["#5a9ecb", "#a86c54", "#c4a42c", "#c81010", "#f0b4ac"]}},
  "strokeDash": {"field": "k", "type": "nominal", "legend": null, "scale": {"domain": ["kijunJ", "tenkan4h", "ts", "round", "clo"], "range": [[15, 10], [15, 10], [12, 8], [1, 0], [12, 12]]}}}},
{"data": {"name": "lv"}, "transform": [{"filter": {"field": "k", "equal": "box"}}],
 "mark": {"type": "rule", "color": "#e08868", "strokeWidth": 1.2},
 "encoding": {
  "x": {"field": "from", "type": "quantitative", "scale": {"domain": [-0.41, 257.95], "nice": false, "zero": false}, "axis": null},
  "x2": {"datum": 257.95},
  "y": {"field": "p", "type": "quantitative", "scale": {"domain": [14690.8, 15601.6], "nice": false, "zero": false}, "axis": {"orient": "right", "values": [14800, 14900, 15000, 15100, 15200, 15300, 15400, 15600], "labelExpr": "replace(format(datum.value, ','), ',', ' ')", "title": null, "grid": false, "domainColor": "#7a7a7a", "tickColor": "#e8e800", "tickSize": 5, "labelColor": "#f2f200", "labelFont": "Liberation Sans", "labelFontSize": 13, "labelFontWeight": "bold", "labelPadding": 2, "labelOverlap": false, "labelBound": false, "labelFlush": false}}}},
{"data": {"values": [{"top": 15455, "bot": 14892, "from": 81.8}]},
 "mark": {"type": "rule", "color": "#b06a50", "strokeWidth": 1},
 "encoding": {
  "x": {"field": "from", "type": "quantitative", "scale": {"domain": [-0.41, 257.95], "nice": false, "zero": false}, "axis": null},
  "y": {"field": "top", "type": "quantitative", "scale": {"domain": [14690.8, 15601.6], "nice": false, "zero": false}, "axis": {"orient": "right", "values": [14800, 14900, 15000, 15100, 15200, 15300, 15400, 15600], "labelExpr": "replace(format(datum.value, ','), ',', ' ')", "title": null, "grid": false, "domainColor": "#7a7a7a", "tickColor": "#e8e800", "tickSize": 5, "labelColor": "#f2f200", "labelFont": "Liberation Sans", "labelFontSize": 13, "labelFontWeight": "bold", "labelPadding": 2, "labelOverlap": false, "labelBound": false, "labelFlush": false}},
  "y2": {"field": "bot"}}},
{"data": {"values": [{"t": 113.77, "k": "a"}, {"t": 139.8, "k": "b"}, {"t": 156.6, "k": "c"}, {"t": 162.7, "k": "d"}]},
 "mark": {"type": "rule", "strokeWidth": 1},
 "encoding": {
  "x": {"field": "t", "type": "quantitative", "scale": {"domain": [-0.41, 257.95], "nice": false, "zero": false}, "axis": null},
  "color": {"field": "k", "type": "nominal", "legend": null, "scale": {"domain": ["a", "b", "c", "d"], "range": ["#4a7ac8", "#c452c4", "#e0c080", "#5c225c"]}},
  "strokeDash": {"field": "k", "type": "nominal", "legend": null, "scale": {"domain": ["a", "b", "c", "d"], "range": [[8, 6], [8, 6], [8, 6], [1, 0]]}}}},
{"data": {"name": "bars"},
 "mark": {"type": "area", "color": "#c07800", "opacity": 0.25},
 "encoding": {
  "x": {"field": "i", "type": "quantitative", "scale": {"domain": [-0.41, 257.95], "nice": false, "zero": false}, "axis": null},
  "y": {"field": "sa", "type": "quantitative", "scale": {"domain": [14690.8, 15601.6], "nice": false, "zero": false}, "axis": {"orient": "right", "values": [14800, 14900, 15000, 15100, 15200, 15300, 15400, 15600], "labelExpr": "replace(format(datum.value, ','), ',', ' ')", "title": null, "grid": false, "domainColor": "#7a7a7a", "tickColor": "#e8e800", "tickSize": 5, "labelColor": "#f2f200", "labelFont": "Liberation Sans", "labelFontSize": 13, "labelFontWeight": "bold", "labelPadding": 2, "labelOverlap": false, "labelBound": false, "labelFlush": false}},
  "y2": {"field": "sb"}}},
{"data": {"name": "bars"},
 "mark": {"type": "line", "color": "#d8901c", "strokeWidth": 1, "strokeDash": [3, 3]},
 "encoding": {
  "x": {"field": "i", "type": "quantitative", "scale": {"domain": [-0.41, 257.95], "nice": false, "zero": false}, "axis": null},
  "y": {"field": "sa", "type": "quantitative", "scale": {"domain": [14690.8, 15601.6], "nice": false, "zero": false}, "axis": {"orient": "right", "values": [14800, 14900, 15000, 15100, 15200, 15300, 15400, 15600], "labelExpr": "replace(format(datum.value, ','), ',', ' ')", "title": null, "grid": false, "domainColor": "#7a7a7a", "tickColor": "#e8e800", "tickSize": 5, "labelColor": "#f2f200", "labelFont": "Liberation Sans", "labelFontSize": 13, "labelFontWeight": "bold", "labelPadding": 2, "labelOverlap": false, "labelBound": false, "labelFlush": false}}}},
{"data": {"name": "bars"},
 "mark": {"type": "line", "color": "#ffa31a", "strokeWidth": 3},
 "encoding": {
  "x": {"field": "i", "type": "quantitative", "scale": {"domain": [-0.41, 257.95], "nice": false, "zero": false}, "axis": null},
  "y": {"field": "sb", "type": "quantitative", "scale": {"domain": [14690.8, 15601.6], "nice": false, "zero": false}, "axis": {"orient": "right", "values": [14800, 14900, 15000, 15100, 15200, 15300, 15400, 15600], "labelExpr": "replace(format(datum.value, ','), ',', ' ')", "title": null, "grid": false, "domainColor": "#7a7a7a", "tickColor": "#e8e800", "tickSize": 5, "labelColor": "#f2f200", "labelFont": "Liberation Sans", "labelFontSize": 13, "labelFontWeight": "bold", "labelPadding": 2, "labelOverlap": false, "labelBound": false, "labelFlush": false}}}},
{"data": {"name": "bars"}, "transform": [{"filter": "isValid(datum.o)"}],
 "mark": {"type": "rule", "strokeWidth": 1},
 "encoding": {
  "x": {"field": "i", "type": "quantitative", "scale": {"domain": [-0.41, 257.95], "nice": false, "zero": false}, "axis": null},
  "y": {"field": "l", "type": "quantitative", "scale": {"domain": [14690.8, 15601.6], "nice": false, "zero": false}, "axis": {"orient": "right", "values": [14800, 14900, 15000, 15100, 15200, 15300, 15400, 15600], "labelExpr": "replace(format(datum.value, ','), ',', ' ')", "title": null, "grid": false, "domainColor": "#7a7a7a", "tickColor": "#e8e800", "tickSize": 5, "labelColor": "#f2f200", "labelFont": "Liberation Sans", "labelFontSize": 13, "labelFontWeight": "bold", "labelPadding": 2, "labelOverlap": false, "labelBound": false, "labelFlush": false}},
  "y2": {"field": "h"},
  "color": {"condition": {"test": "datum.c >= datum.o", "value": "#ffffff"}, "value": "#e8262e"}}},
{"data": {"name": "bars"}, "transform": [{"filter": "isValid(datum.o)"}],
 "mark": {"type": "bar", "size": 4, "orient": "vertical"},
 "encoding": {
  "x": {"field": "i", "type": "quantitative", "scale": {"domain": [-0.41, 257.95], "nice": false, "zero": false}, "axis": null},
  "y": {"field": "o", "type": "quantitative", "scale": {"domain": [14690.8, 15601.6], "nice": false, "zero": false}, "axis": {"orient": "right", "values": [14800, 14900, 15000, 15100, 15200, 15300, 15400, 15600], "labelExpr": "replace(format(datum.value, ','), ',', ' ')", "title": null, "grid": false, "domainColor": "#7a7a7a", "tickColor": "#e8e800", "tickSize": 5, "labelColor": "#f2f200", "labelFont": "Liberation Sans", "labelFontSize": 13, "labelFontWeight": "bold", "labelPadding": 2, "labelOverlap": false, "labelBound": false, "labelFlush": false}},
  "y2": {"field": "c"},
  "color": {"condition": {"test": "datum.c >= datum.o", "value": "#ffffff"}, "value": "#e8262e"}}},
{"data": {"name": "bars"},
 "mark": {"type": "line", "color": "#e0962a", "strokeWidth": 1},
 "encoding": {
  "x": {"field": "i", "type": "quantitative", "scale": {"domain": [-0.41, 257.95], "nice": false, "zero": false}, "axis": null},
  "y": {"field": "tk", "type": "quantitative", "scale": {"domain": [14690.8, 15601.6], "nice": false, "zero": false}, "axis": {"orient": "right", "values": [14800, 14900, 15000, 15100, 15200, 15300, 15400, 15600], "labelExpr": "replace(format(datum.value, ','), ',', ' ')", "title": null, "grid": false, "domainColor": "#7a7a7a", "tickColor": "#e8e800", "tickSize": 5, "labelColor": "#f2f200", "labelFont": "Liberation Sans", "labelFontSize": 13, "labelFontWeight": "bold", "labelPadding": 2, "labelOverlap": false, "labelBound": false, "labelFlush": false}}}},
{"data": {"name": "bars"},
 "mark": {"type": "line", "color": "#ffa31a", "strokeWidth": 3},
 "encoding": {
  "x": {"field": "i", "type": "quantitative", "scale": {"domain": [-0.41, 257.95], "nice": false, "zero": false}, "axis": null},
  "y": {"field": "kj", "type": "quantitative", "scale": {"domain": [14690.8, 15601.6], "nice": false, "zero": false}, "axis": {"orient": "right", "values": [14800, 14900, 15000, 15100, 15200, 15300, 15400, 15600], "labelExpr": "replace(format(datum.value, ','), ',', ' ')", "title": null, "grid": false, "domainColor": "#7a7a7a", "tickColor": "#e8e800", "tickSize": 5, "labelColor": "#f2f200", "labelFont": "Liberation Sans", "labelFontSize": 13, "labelFontWeight": "bold", "labelPadding": 2, "labelOverlap": false, "labelBound": false, "labelFlush": false}}}},
{"data": {"name": "bars"},
 "mark": {"type": "line", "color": "#f0a028", "strokeWidth": 2.5, "strokeDash": [5, 4]},
 "encoding": {
  "x": {"field": "i", "type": "quantitative", "scale": {"domain": [-0.41, 257.95], "nice": false, "zero": false}, "axis": null},
  "y": {"field": "ck", "type": "quantitative", "scale": {"domain": [14690.8, 15601.6], "nice": false, "zero": false}, "axis": {"orient": "right", "values": [14800, 14900, 15000, 15100, 15200, 15300, 15400, 15600], "labelExpr": "replace(format(datum.value, ','), ',', ' ')", "title": null, "grid": false, "domainColor": "#7a7a7a", "tickColor": "#e8e800", "tickSize": 5, "labelColor": "#f2f200", "labelFont": "Liberation Sans", "labelFontSize": 13, "labelFontWeight": "bold", "labelPadding": 2, "labelOverlap": false, "labelBound": false, "labelFlush": false}}}},
{"data": {"name": "labels"},
 "mark": {"type": "text", "align": "right", "baseline": "middle", "font": "Liberation Sans", "fontSize": 12, "fontWeight": "bold"},
 "encoding": {
  "x": {"datum": 256.9, "type": "quantitative", "scale": {"domain": [-0.41, 257.95], "nice": false, "zero": false}, "axis": null},
  "y": {"field": "p", "type": "quantitative", "scale": {"domain": [14690.8, 15601.6], "nice": false, "zero": false}, "axis": {"orient": "right", "values": [14800, 14900, 15000, 15100, 15200, 15300, 15400, 15600], "labelExpr": "replace(format(datum.value, ','), ',', ' ')", "title": null, "grid": false, "domainColor": "#7a7a7a", "tickColor": "#e8e800", "tickSize": 5, "labelColor": "#f2f200", "labelFont": "Liberation Sans", "labelFontSize": 13, "labelFontWeight": "bold", "labelPadding": 2, "labelOverlap": false, "labelBound": false, "labelFlush": false}},
  "text": {"field": "t"},
  "color": {"field": "k", "type": "nominal", "legend": null, "scale": {"domain": ["J", "4h", "S", "clo"], "range": ["#3ea6f0", "#f07848", "#f4ec00", "#f0a8a0"]}}}},
{"data": {"values": [{"p": 15159.4, "t": "tenkan (-337)"}]},
 "mark": {"type": "text", "align": "right", "baseline": "middle", "font": "Liberation Sans", "fontSize": 12, "fontWeight": "bold", "color": "#3ea6f0"},
 "encoding": {
  "x": {"datum": 254.0, "type": "quantitative", "scale": {"domain": [-0.41, 257.95], "nice": false, "zero": false}, "axis": null},
  "y": {"field": "p", "type": "quantitative", "scale": {"domain": [14690.8, 15601.6], "nice": false, "zero": false}, "axis": {"orient": "right", "values": [14800, 14900, 15000, 15100, 15200, 15300, 15400, 15600], "labelExpr": "replace(format(datum.value, ','), ',', ' ')", "title": null, "grid": false, "domainColor": "#7a7a7a", "tickColor": "#e8e800", "tickSize": 5, "labelColor": "#f2f200", "labelFont": "Liberation Sans", "labelFontSize": 13, "labelFontWeight": "bold", "labelPadding": 2, "labelOverlap": false, "labelBound": false, "labelFlush": false}},
  "text": {"field": "t"}}},
{"data": {"values": [{"p": 14696.5, "t": "temps réel"}]},
 "mark": {"type": "text", "align": "left", "baseline": "middle", "font": "Liberation Sans", "fontSize": 11, "fontStyle": "italic", "color": "#d000d0", "dx": -5},
 "encoding": {
  "x": {"datum": -0.41, "type": "quantitative", "scale": {"domain": [-0.41, 257.95], "nice": false, "zero": false}, "axis": null},
  "y": {"field": "p", "type": "quantitative", "scale": {"domain": [14690.8, 15601.6], "nice": false, "zero": false}, "axis": {"orient": "right", "values": [14800, 14900, 15000, 15100, 15200, 15300, 15400, 15600], "labelExpr": "replace(format(datum.value, ','), ',', ' ')", "title": null, "grid": false, "domainColor": "#7a7a7a", "tickColor": "#e8e800", "tickSize": 5, "labelColor": "#f2f200", "labelFont": "Liberation Sans", "labelFontSize": 13, "labelFontWeight": "bold", "labelPadding": 2, "labelOverlap": false, "labelBound": false, "labelFlush": false}},
  "text": {"field": "t"}}},
{"data": {"values": [{"p": 14714.8, "t": "DXMXXXX, 4h"}]},
 "mark": {"type": "text", "align": "right", "baseline": "middle", "font": "Liberation Sans", "fontSize": 22, "fontWeight": "bold", "color": "#2a2a2a"},
 "encoding": {
  "x": {"datum": 256.1, "type": "quantitative", "scale": {"domain": [-0.41, 257.95], "nice": false, "zero": false}, "axis": null},
  "y": {"field": "p", "type": "quantitative", "scale": {"domain": [14690.8, 15601.6], "nice": false, "zero": false}, "axis": {"orient": "right", "values": [14800, 14900, 15000, 15100, 15200, 15300, 15400, 15600], "labelExpr": "replace(format(datum.value, ','), ',', ' ')", "title": null, "grid": false, "domainColor": "#7a7a7a", "tickColor": "#e8e800", "tickSize": 5, "labelColor": "#f2f200", "labelFont": "Liberation Sans", "labelFontSize": 13, "labelFontWeight": "bold", "labelPadding": 2, "labelOverlap": false, "labelBound": false, "labelFlush": false}},
  "text": {"field": "t"}}},
{"data": {"values": [{"p": 15000}]},
 "mark": {"type": "point", "shape": "M-1,-0.383L1,-0.383L1,0.383L-1,0.383Z", "size": 2209, "filled": true, "fill": "#140000", "stroke": "#e00000", "strokeWidth": 1, "opacity": 1, "yOffset": -9.5},
 "encoding": {
  "x": {"datum": 254.38, "type": "quantitative", "scale": {"domain": [-0.41, 257.95], "nice": false, "zero": false}, "axis": null},
  "y": {"field": "p", "type": "quantitative", "scale": {"domain": [14690.8, 15601.6], "nice": false, "zero": false}, "axis": {"orient": "right", "values": [14800, 14900, 15000, 15100, 15200, 15300, 15400, 15600], "labelExpr": "replace(format(datum.value, ','), ',', ' ')", "title": null, "grid": false, "domainColor": "#7a7a7a", "tickColor": "#e8e800", "tickSize": 5, "labelColor": "#f2f200", "labelFont": "Liberation Sans", "labelFontSize": 13, "labelFontWeight": "bold", "labelPadding": 2, "labelOverlap": false, "labelBound": false, "labelFlush": false}}}},
{"data": {"values": [{"p": 15000, "t": "15 000"}]},
 "mark": {"type": "text", "align": "center", "baseline": "middle", "font": "Liberation Sans", "fontSize": 14, "color": "#ff2020", "yOffset": -9},
 "encoding": {
  "x": {"datum": 254.38, "type": "quantitative", "scale": {"domain": [-0.41, 257.95], "nice": false, "zero": false}, "axis": null},
  "y": {"field": "p", "type": "quantitative", "scale": {"domain": [14690.8, 15601.6], "nice": false, "zero": false}, "axis": {"orient": "right", "values": [14800, 14900, 15000, 15100, 15200, 15300, 15400, 15600], "labelExpr": "replace(format(datum.value, ','), ',', ' ')", "title": null, "grid": false, "domainColor": "#7a7a7a", "tickColor": "#e8e800", "tickSize": 5, "labelColor": "#f2f200", "labelFont": "Liberation Sans", "labelFontSize": 13, "labelFontWeight": "bold", "labelPadding": 2, "labelOverlap": false, "labelBound": false, "labelFlush": false}},
  "text": {"field": "t"}}},
{"data": {"values": [{"p": 15422, "t": "15 422"}, {"p": 15287, "t": "15 287"}]},
 "mark": {"type": "point", "shape": "M-1,-0.333L1,-0.333L1,0.333L-1,0.333Z", "size": 1764, "filled": true, "fill": "#151515", "stroke": "#707070", "strokeWidth": 1, "opacity": 1, "yOffset": 1},
 "encoding": {
  "x": {"datum": 261.97, "type": "quantitative", "scale": {"domain": [-0.41, 257.95], "nice": false, "zero": false}, "axis": null},
  "y": {"field": "p", "type": "quantitative", "scale": {"domain": [14690.8, 15601.6], "nice": false, "zero": false}, "axis": {"orient": "right", "values": [14800, 14900, 15000, 15100, 15200, 15300, 15400, 15600], "labelExpr": "replace(format(datum.value, ','), ',', ' ')", "title": null, "grid": false, "domainColor": "#7a7a7a", "tickColor": "#e8e800", "tickSize": 5, "labelColor": "#f2f200", "labelFont": "Liberation Sans", "labelFontSize": 13, "labelFontWeight": "bold", "labelPadding": 2, "labelOverlap": false, "labelBound": false, "labelFlush": false}}}},
{"data": {"values": [{"p": 15422, "t": "15 422"}, {"p": 15287, "t": "15 287"}]},
 "mark": {"type": "text", "align": "center", "baseline": "middle", "font": "Liberation Sans", "fontSize": 14, "fontWeight": "bold", "color": "#f0a030", "yOffset": 1},
 "encoding": {
  "x": {"datum": 261.97, "type": "quantitative", "scale": {"domain": [-0.41, 257.95], "nice": false, "zero": false}, "axis": null},
  "y": {"field": "p", "type": "quantitative", "scale": {"domain": [14690.8, 15601.6], "nice": false, "zero": false}, "axis": {"orient": "right", "values": [14800, 14900, 15000, 15100, 15200, 15300, 15400, 15600], "labelExpr": "replace(format(datum.value, ','), ',', ' ')", "title": null, "grid": false, "domainColor": "#7a7a7a", "tickColor": "#e8e800", "tickSize": 5, "labelColor": "#f2f200", "labelFont": "Liberation Sans", "labelFontSize": 13, "labelFontWeight": "bold", "labelPadding": 2, "labelOverlap": false, "labelBound": false, "labelFlush": false}},
  "text": {"field": "t"}}},
{"data": {"values": [{"p": 15152}]},
 "mark": {"type": "point", "shape": "M-1,-0.333L1,-0.333L1,0.333L-1,0.333Z", "size": 1764, "filled": true, "fill": "#151515", "stroke": "#707070", "strokeWidth": 1, "opacity": 1, "yOffset": -6.5},
 "encoding": {
  "x": {"datum": 261.97, "type": "quantitative", "scale": {"domain": [-0.41, 257.95], "nice": false, "zero": false}, "axis": null},
  "y": {"field": "p", "type": "quantitative", "scale": {"domain": [14690.8, 15601.6], "nice": false, "zero": false}, "axis": {"orient": "right", "values": [14800, 14900, 15000, 15100, 15200, 15300, 15400, 15600], "labelExpr": "replace(format(datum.value, ','), ',', ' ')", "title": null, "grid": false, "domainColor": "#7a7a7a", "tickColor": "#e8e800", "tickSize": 5, "labelColor": "#f2f200", "labelFont": "Liberation Sans", "labelFontSize": 13, "labelFontWeight": "bold", "labelPadding": 2, "labelOverlap": false, "labelBound": false, "labelFlush": false}}}},
{"data": {"values": [{"p": 15152}]},
 "mark": {"type": "point", "shape": "M-1,-0.333L1,-0.333L1,0.333L-1,0.333Z", "size": 1764, "filled": true, "fill": "#151515", "stroke": "#707070", "strokeWidth": 1, "opacity": 1, "yOffset": 9},
 "encoding": {
  "x": {"datum": 261.97, "type": "quantitative", "scale": {"domain": [-0.41, 257.95], "nice": false, "zero": false}, "axis": null},
  "y": {"field": "p", "type": "quantitative", "scale": {"domain": [14690.8, 15601.6], "nice": false, "zero": false}, "axis": {"orient": "right", "values": [14800, 14900, 15000, 15100, 15200, 15300, 15400, 15600], "labelExpr": "replace(format(datum.value, ','), ',', ' ')", "title": null, "grid": false, "domainColor": "#7a7a7a", "tickColor": "#e8e800", "tickSize": 5, "labelColor": "#f2f200", "labelFont": "Liberation Sans", "labelFontSize": 13, "labelFontWeight": "bold", "labelPadding": 2, "labelOverlap": false, "labelBound": false, "labelFlush": false}}}},
{"data": {"values": [{"p": 15152, "t": "15 152"}]},
 "mark": {"type": "text", "align": "center", "baseline": "middle", "font": "Liberation Sans", "fontSize": 14, "fontWeight": "bold", "color": "#f0a030", "yOffset": -6.5},
 "encoding": {
  "x": {"datum": 261.97, "type": "quantitative", "scale": {"domain": [-0.41, 257.95], "nice": false, "zero": false}, "axis": null},
  "y": {"field": "p", "type": "quantitative", "scale": {"domain": [14690.8, 15601.6], "nice": false, "zero": false}, "axis": {"orient": "right", "values": [14800, 14900, 15000, 15100, 15200, 15300, 15400, 15600], "labelExpr": "replace(format(datum.value, ','), ',', ' ')", "title": null, "grid": false, "domainColor": "#7a7a7a", "tickColor": "#e8e800", "tickSize": 5, "labelColor": "#f2f200", "labelFont": "Liberation Sans", "labelFontSize": 13, "labelFontWeight": "bold", "labelPadding": 2, "labelOverlap": false, "labelBound": false, "labelFlush": false}},
  "text": {"field": "t"}}},
{"data": {"values": [{"p": 15152, "t": "15 152"}]},
 "mark": {"type": "text", "align": "center", "baseline": "middle", "font": "Liberation Sans", "fontSize": 14, "fontWeight": "bold", "color": "#f0a030", "yOffset": 9},
 "encoding": {
  "x": {"datum": 261.97, "type": "quantitative", "scale": {"domain": [-0.41, 257.95], "nice": false, "zero": false}, "axis": null},
  "y": {"field": "p", "type": "quantitative", "scale": {"domain": [14690.8, 15601.6], "nice": false, "zero": false}, "axis": {"orient": "right", "values": [14800, 14900, 15000, 15100, 15200, 15300, 15400, 15600], "labelExpr": "replace(format(datum.value, ','), ',', ' ')", "title": null, "grid": false, "domainColor": "#7a7a7a", "tickColor": "#e8e800", "tickSize": 5, "labelColor": "#f2f200", "labelFont": "Liberation Sans", "labelFontSize": 13, "labelFontWeight": "bold", "labelPadding": 2, "labelOverlap": false, "labelBound": false, "labelFlush": false}},
  "text": {"field": "t"}}},
{"data": {"values": [{"p": 15489}]},
 "mark": {"type": "point", "shape": "M-1,-0.333L1,-0.333L1,0.333L-1,0.333Z", "size": 1936, "filled": true, "fill": "#151515", "stroke": "#707070", "strokeWidth": 1, "opacity": 1, "yOffset": 9},
 "encoding": {
  "x": {"datum": 262.28, "type": "quantitative", "scale": {"domain": [-0.41, 257.95], "nice": false, "zero": false}, "axis": null},
  "y": {"field": "p", "type": "quantitative", "scale": {"domain": [14690.8, 15601.6], "nice": false, "zero": false}, "axis": {"orient": "right", "values": [14800, 14900, 15000, 15100, 15200, 15300, 15400, 15600], "labelExpr": "replace(format(datum.value, ','), ',', ' ')", "title": null, "grid": false, "domainColor": "#7a7a7a", "tickColor": "#e8e800", "tickSize": 5, "labelColor": "#f2f200", "labelFont": "Liberation Sans", "labelFontSize": 13, "labelFontWeight": "bold", "labelPadding": 2, "labelOverlap": false, "labelBound": false, "labelFlush": false}}}},
{"data": {"values": [{"p": 15489, "t": "15 489"}]},
 "mark": {"type": "text", "align": "center", "baseline": "middle", "font": "Liberation Sans", "fontSize": 14, "fontWeight": "bold", "color": "#e89a9a", "yOffset": 9},
 "encoding": {
  "x": {"datum": 262.28, "type": "quantitative", "scale": {"domain": [-0.41, 257.95], "nice": false, "zero": false}, "axis": null},
  "y": {"field": "p", "type": "quantitative", "scale": {"domain": [14690.8, 15601.6], "nice": false, "zero": false}, "axis": {"orient": "right", "values": [14800, 14900, 15000, 15100, 15200, 15300, 15400, 15600], "labelExpr": "replace(format(datum.value, ','), ',', ' ')", "title": null, "grid": false, "domainColor": "#7a7a7a", "tickColor": "#e8e800", "tickSize": 5, "labelColor": "#f2f200", "labelFont": "Liberation Sans", "labelFontSize": 13, "labelFontWeight": "bold", "labelPadding": 2, "labelOverlap": false, "labelBound": false, "labelFlush": false}},
  "text": {"field": "t"}}},
{"data": {"values": [{"p": 15489}]},
 "mark": {"type": "point", "shape": "M-1,-0.62L1,-0.62L1,0.62L-1,0.62Z", "size": 441, "filled": true, "fill": "#a8eca0", "stroke": "#80c080", "strokeWidth": 1, "opacity": 1, "yOffset": 1},
 "encoding": {
  "x": {"datum": 260.45, "type": "quantitative", "scale": {"domain": [-0.41, 257.95], "nice": false, "zero": false}, "axis": null},
  "y": {"field": "p", "type": "quantitative", "scale": {"domain": [14690.8, 15601.6], "nice": false, "zero": false}, "axis": {"orient": "right", "values": [14800, 14900, 15000, 15100, 15200, 15300, 15400, 15600], "labelExpr": "replace(format(datum.value, ','), ',', ' ')", "title": null, "grid": false, "domainColor": "#7a7a7a", "tickColor": "#e8e800", "tickSize": 5, "labelColor": "#f2f200", "labelFont": "Liberation Sans", "labelFontSize": 13, "labelFontWeight": "bold", "labelPadding": 2, "labelOverlap": false, "labelBound": false, "labelFlush": false}}}},
{"data": {"values": [{"p": 15489, "t": "25s"}]},
 "mark": {"type": "text", "align": "center", "baseline": "middle", "font": "Liberation Sans", "fontSize": 13, "fontWeight": "bold", "color": "#000000", "yOffset": 1.5},
 "encoding": {
  "x": {"datum": 260.45, "type": "quantitative", "scale": {"domain": [-0.41, 257.95], "nice": false, "zero": false}, "axis": null},
  "y": {"field": "p", "type": "quantitative", "scale": {"domain": [14690.8, 15601.6], "nice": false, "zero": false}, "axis": {"orient": "right", "values": [14800, 14900, 15000, 15100, 15200, 15300, 15400, 15600], "labelExpr": "replace(format(datum.value, ','), ',', ' ')", "title": null, "grid": false, "domainColor": "#7a7a7a", "tickColor": "#e8e800", "tickSize": 5, "labelColor": "#f2f200", "labelFont": "Liberation Sans", "labelFontSize": 13, "labelFontWeight": "bold", "labelPadding": 2, "labelOverlap": false, "labelBound": false, "labelFlush": false}},
  "text": {"field": "t"}}},
{"data": {"values": [{"p": 15489}]},
 "mark": {"type": "point", "shape": "M-1,-0.356L1,-0.356L1,0.356L-1,0.356Z", "size": 2025, "filled": true, "fill": "#f8d000", "strokeWidth": 0, "opacity": 1, "yOffset": -16},
 "encoding": {
  "x": {"datum": 262.28, "type": "quantitative", "scale": {"domain": [-0.41, 257.95], "nice": false, "zero": false}, "axis": null},
  "y": {"field": "p", "type": "quantitative", "scale": {"domain": [14690.8, 15601.6], "nice": false, "zero": false}, "axis": {"orient": "right", "values": [14800, 14900, 15000, 15100, 15200, 15300, 15400, 15600], "labelExpr": "replace(format(datum.value, ','), ',', ' ')", "title": null, "grid": false, "domainColor": "#7a7a7a", "tickColor": "#e8e800", "tickSize": 5, "labelColor": "#f2f200", "labelFont": "Liberation Sans", "labelFontSize": 13, "labelFontWeight": "bold", "labelPadding": 2, "labelOverlap": false, "labelBound": false, "labelFlush": false}}}},
{"data": {"values": [{"p": 15489, "t": "15 489"}]},
 "mark": {"type": "text", "align": "center", "baseline": "middle", "font": "Liberation Sans", "fontSize": 14, "fontWeight": "bold", "color": "#000000", "yOffset": -15.5},
 "encoding": {
  "x": {"datum": 262.28, "type": "quantitative", "scale": {"domain": [-0.41, 257.95], "nice": false, "zero": false}, "axis": null},
  "y": {"field": "p", "type": "quantitative", "scale": {"domain": [14690.8, 15601.6], "nice": false, "zero": false}, "axis": {"orient": "right", "values": [14800, 14900, 15000, 15100, 15200, 15300, 15400, 15600], "labelExpr": "replace(format(datum.value, ','), ',', ' ')", "title": null, "grid": false, "domainColor": "#7a7a7a", "tickColor": "#e8e800", "tickSize": 5, "labelColor": "#f2f200", "labelFont": "Liberation Sans", "labelFontSize": 13, "labelFontWeight": "bold", "labelPadding": 2, "labelOverlap": false, "labelBound": false, "labelFlush": false}},
  "text": {"field": "t"}}}
]
}
